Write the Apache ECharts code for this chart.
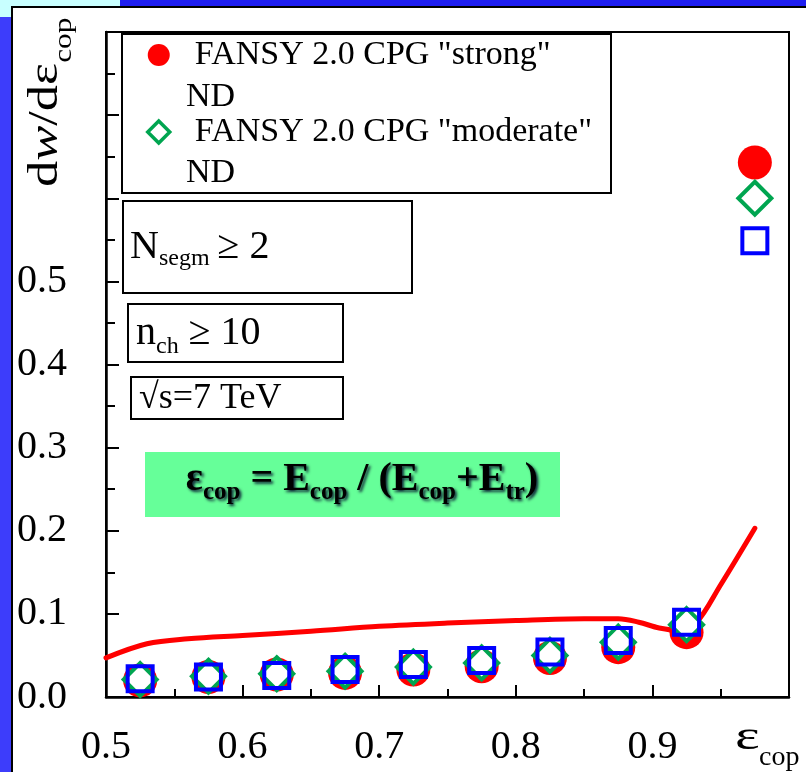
<!DOCTYPE html>
<html>
<head>
<meta charset="utf-8">
<script src="https://cdn.jsdelivr.net/npm/echarts@6/dist/echarts.min.js"></script>
<style>
  html, body { margin: 0; padding: 0; overflow: hidden; background: #3d3dfb; }
  #stage { position: relative; width: 806px; height: 772px; overflow: hidden; }
  .bandTop { position: absolute; left: 0; top: 0; width: 806px; height: 8px; background: #1e1ef0; }
  .cornerA { position: absolute; left: 0; top: 0; width: 120px; height: 6px; background: #c8ffff; }
  .cornerB { position: absolute; left: 0; top: 0; width: 12px; height: 17px; background: #c8ffff; }
  #panel { position: absolute; left: 11px; top: 6px; width: 820px; height: 800px; background: #fff;
           border-top: 2px solid #000; border-left: 2px solid #000; }
  #chart { position: absolute; left: 0; top: 0; width: 806px; height: 772px; }
</style>
</head>
<body>
<div id="stage">
  <div class="bandTop"></div>
  <div class="cornerA"></div>
  <div class="cornerB"></div>
  <div id="panel"></div>
  <div id="chart"></div>
</div>
<script>
// Bin centres of the coplanarity fraction
const binCenters = [0.525, 0.575, 0.625, 0.675, 0.725, 0.775, 0.825, 0.875, 0.925, 0.975];
// FANSY 2.0 CPG "strong" ND
const strongND = [0.020, 0.024, 0.027, 0.029, 0.033, 0.037, 0.047, 0.060, 0.078, 0.643];
// FANSY 2.0 CPG "moderate" ND
const moderateND = [0.021, 0.025, 0.028, 0.031, 0.036, 0.041, 0.050, 0.066, 0.087, 0.600];
// Third sample (open squares)
const squareSet = [0.022, 0.024, 0.026, 0.033, 0.039, 0.044, 0.054, 0.068, 0.090, 0.549];
// Solid red curve
const curveX = [0.500, 0.530, 0.560, 0.600, 0.650, 0.700, 0.750, 0.800, 0.850, 0.875, 0.890, 0.905, 0.920, 0.932, 0.950, 0.975];
const curveY = [0.047, 0.064, 0.070, 0.074, 0.079, 0.085, 0.089, 0.092, 0.094, 0.094, 0.090, 0.083, 0.080, 0.089, 0.135, 0.203];
// Tick labels
const xTickLabels = ['0.5', '0.6', '0.7', '0.8', '0.9'];
const yTickLabels = ['0.0', '0.1', '0.2', '0.3', '0.4', '0.5'];

const SERIF = "'Liberation Serif', 'Times New Roman', serif";
const RED = '#ff0000', GREEN = '#00a550', BLUE = '#0000ff';

const pairs = (xs, ys) => xs.map((x, i) => [x, ys[i]]);

const chart = echarts.init(document.getElementById('chart'), null, { renderer: 'canvas' });

// rich-text styles for main text and lowered subscripts
const mainTok = (size, extra) => Object.assign({ fontFamily: SERIF, fontSize: size, lineHeight: 44, verticalAlign: 'top', color: '#000' }, extra || {});
const subTok = (size, pad, extra) => Object.assign({ fontFamily: SERIF, fontSize: size, lineHeight: 28, padding: [pad, 0, 0, 0], verticalAlign: 'top', color: '#000' }, extra || {});

const shadow = { textShadowColor: 'rgba(0,0,40,0.85)', textShadowBlur: 3, textShadowOffsetX: 2, textShadowOffsetY: 2 };
const eqMain = mainTok(40, Object.assign({ fontWeight: 'bold', color: '#1010ee' }, shadow));
const eqSub = subTok(25, 20, Object.assign({ fontWeight: 'bold', color: '#1010ee' }, shadow));

const option = {
  animation: false,
  backgroundColor: 'transparent',
  grid: { left: 106, top: 32, right: 17, bottom: 75, show: true, borderColor: '#000', borderWidth: 2, backgroundColor: 'transparent' },
  xAxis: {
    type: 'value', min: 0.5, max: 1.0, interval: 0.1,
    axisLine: { show: true, onZero: false, lineStyle: { color: '#000', width: 2.5 } },
    axisTick: { show: true, inside: true, length: 12, lineStyle: { color: '#000', width: 2 } },
    minorTick: { show: true, splitNumber: 2, length: 8, lineStyle: { color: '#000', width: 2 } },
    splitLine: { show: false },
    axisLabel: {
      margin: 30, color: '#000', fontFamily: SERIF, fontSize: 40,
      formatter: v => { const i = Math.round((v - 0.5) * 10); return i < xTickLabels.length ? xTickLabels[i] : ''; }
    }
  },
  yAxis: {
    type: 'value', min: 0, max: 0.8, interval: 0.1,
    axisLine: { show: true, onZero: false, lineStyle: { color: '#000', width: 2.5 } },
    axisTick: { show: true, inside: true, length: 13, lineStyle: { color: '#000', width: 2 } },
    minorTick: { show: true, splitNumber: 2, length: 9, lineStyle: { color: '#000', width: 2 } },
    splitLine: { show: false },
    axisLabel: {
      margin: 39, color: '#000', fontFamily: SERIF, fontSize: 40,
      formatter: v => { const i = Math.round(v * 10); return i < yTickLabels.length ? yTickLabels[i] : ''; }
    }
  },
  legend: {
    orient: 'vertical', left: 146, top: 35, padding: 0, itemGap: 37,
    itemWidth: 22, itemHeight: 22, selectedMode: false,
    textStyle: { fontFamily: SERIF, fontSize: 34, lineHeight: 40, color: '#000', padding: [0, 0, 0, 20] },
    data: [
      { name: 'FANSY 2.0 CPG "strong"', icon: 'circle', itemStyle: { color: RED, borderWidth: 0 } },
      { name: 'FANSY 2.0 CPG "moderate"', icon: 'diamond', itemStyle: { color: '#fff', borderColor: GREEN, borderWidth: 3.5 } }
    ]
  },
  graphic: [
    // legend frame and second text lines
    { type: 'rect', z: 50, shape: { x: 122, y: 34, width: 489, height: 159 }, style: { fill: 'none', stroke: '#000', lineWidth: 2 } },
    { type: 'text', z: 50, x: 186, y: 97, style: { text: 'ND', fontFamily: SERIF, fontSize: 34, fill: '#000', verticalAlign: 'middle' } },
    { type: 'text', z: 50, x: 186, y: 173, style: { text: 'ND', fontFamily: SERIF, fontSize: 34, fill: '#000', verticalAlign: 'middle' } },
    // selection boxes
    { type: 'rect', z: 50, shape: { x: 123, y: 201, width: 289, height: 92 }, style: { fill: '#fff', stroke: '#000', lineWidth: 2 } },
    { type: 'text', z: 51, x: 130, y: 227, style: {
        text: '{m|N}{s|segm}{m|\u2009\u2265 2}', verticalAlign: 'top',
        rich: { m: mainTok(40), s: subTok(24, 20) } } },
    { type: 'rect', z: 50, shape: { x: 128, y: 304, width: 215, height: 58 }, style: { fill: '#fff', stroke: '#000', lineWidth: 2 } },
    { type: 'text', z: 51, x: 136, y: 313, style: {
        text: '{m|n}{s|ch}{m| \u2265 10}', verticalAlign: 'top',
        rich: { m: mainTok(40), s: subTok(24, 22) } } },
    { type: 'rect', z: 50, shape: { x: 131, y: 377, width: 212, height: 42 }, style: { fill: '#fff', stroke: '#000', lineWidth: 2 } },
    { type: 'text', z: 51, x: 139, y: 399, style: { text: '\u221As=7 TeV', fontFamily: SERIF, fontSize: 36, fill: '#000', verticalAlign: 'middle' } },
    // definition of the coplanarity fraction
    { type: 'rect', z: 50, shape: { x: 145, y: 452, width: 415, height: 65 }, style: { fill: '#66ff99' } },
    { type: 'text', z: 51, x: 362, y: 460, style: {
        text: '{m|\u03b5}{s|cop}{m| = E}{s|cop}{m| / (E}{s|cop}{m|+E}{s|tr}{m|)}',
        align: 'center', verticalAlign: 'top', rich: { m: eqMain, s: eqSub } } },
    // y axis title, reading upwards
    { type: 'text', z: 51, x: 25, y: 187, rotation: Math.PI / 2, scaleX: 1.25, style: {
        text: '{m|d}{i|w}{m|/d\u03b5}{s|cop}', align: 'left', verticalAlign: 'top',
        rich: { m: mainTok(42), i: mainTok(42, { fontStyle: 'italic' }), s: subTok(25, 27) } } },
    // x axis title at the end of the axis
    { type: 'text', z: 51, x: 735, y: 716, scaleX: 1.4, style: {
        text: '\u03b5', fontFamily: SERIF, fontSize: 42, lineHeight: 44, fill: '#000', verticalAlign: 'top' } },
    { type: 'text', z: 51, x: 759, y: 758, style: {
        text: 'cop', fontFamily: SERIF, fontSize: 28, fill: '#000', verticalAlign: 'middle' } }
  ],
  series: [
    {
      name: 'curve', type: 'line', data: pairs(curveX, curveY), smooth: 0.35, showSymbol: false, symbol: 'none',
      lineStyle: { color: RED, width: 5, cap: 'round', join: 'round' }, z: 2
    },
    {
      name: 'FANSY 2.0 CPG "strong"', type: 'scatter', data: pairs(binCenters, strongND),
      symbol: 'circle', symbolSize: 34, itemStyle: { color: RED, opacity: 1 }, z: 3
    },
    {
      name: 'FANSY 2.0 CPG "moderate"', type: 'scatter', data: pairs(binCenters, moderateND),
      symbol: 'diamond', symbolSize: 33, itemStyle: { color: '#fff', borderColor: GREEN, borderWidth: 4, opacity: 1 }, z: 4
    },
    {
      name: 'squares', type: 'scatter', data: pairs(binCenters, squareSet),
      symbol: 'rect', symbolSize: 25, itemStyle: { color: 'rgba(0,0,0,0)', borderColor: BLUE, borderWidth: 4, opacity: 1 }, z: 5
    }
  ]
};

chart.setOption(option);
</script>
</body>
</html>
